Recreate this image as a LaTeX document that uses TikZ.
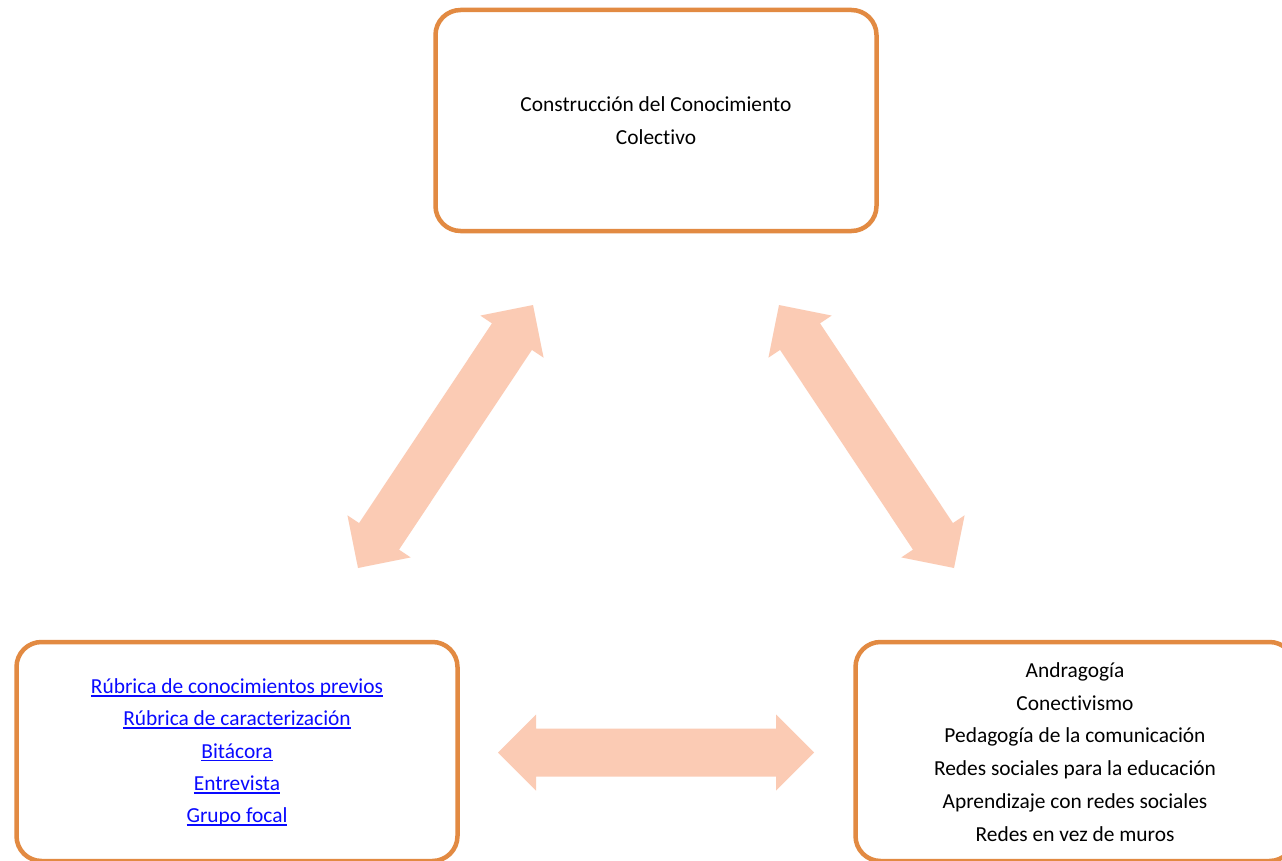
\documentclass[tikz,border=0pt]{standalone}
\usepackage{fontspec}
\setmainfont{Carlito}[Ligatures=NoCommon]
\usetikzlibrary{calc}
\definecolor{boxorange}{RGB}{226,138,66}
\definecolor{arrowpeach}{RGB}{251,203,180}
\definecolor{linkblue}{RGB}{10,10,255}
\newcommand\lnk[1]{\setbox0\hbox{#1}\rlap{\rule[-3pt]{\wd0}{1.5pt}}\box0}
\newcommand\dblarrow[2]{%
  \fill[arrowpeach]
    ($(#1)!38pt!(#2)$) coordinate (h1)
    ($(#2)!38pt!(#1)$) coordinate (h2)
    (#1) -- ($(h1)!38pt!90:(#2)$) -- ($(h1)!24pt!90:(#2)$)
    -- ($(h2)!24pt!-90:(#1)$) -- ($(h2)!38pt!-90:(#1)$) -- (#2)
    -- ($(h2)!38pt!90:(#1)$) -- ($(h2)!24pt!90:(#1)$)
    -- ($(h1)!24pt!-90:(#2)$) -- ($(h1)!38pt!-90:(#2)$) -- cycle;}
\tikzset{
  box/.style={draw=boxorange, line width=4.5pt, rounded corners=25pt, fill=white,
    align=center, font=\fontsize{21.4}{33.5}\selectfont, inner sep=0pt},
}
\begin{document}
\begin{tikzpicture}[x=1pt,y=-1pt]
\path[use as bounding box] (0,0) rectangle (1282,861);
\clip (0,0) rectangle (1282,861);
\fill[white] (0,0) rectangle (1282,861);
% boxes
\node[box, minimum width=441pt, minimum height=221pt] (top) at (656,120.5)
  {Construcción del Conocimiento\\Colectivo};
\node[box, minimum width=441pt, minimum height=219pt] (left) at (237,751.5)
  {};
\node[align=center, font=\fontsize{21.4}{32.3}\selectfont, text=linkblue, inner sep=0pt] (lefttext) at (237,752.5)
  {\lnk{Rúbrica de conocimientos previos}\\\lnk{Rúbrica de caracterización}\\\lnk{Bitácora}\\\lnk{Entrevista}\\\lnk{Grupo focal}};
\node[box, minimum width=439pt, minimum height=219pt] (right) at (1075,751.5)
  {};
\node[align=center, font=\fontsize{21.4}{32.8}\selectfont, inner sep=0pt] (righttext) at (1075,752)
  {Andragogía\\Conectivismo\\Pedagogía de la comunicación\\Redes sociales para la educación\\Aprendizaje con redes sociales\\Redes en vez de muros};
% arrows
\coordinate (a1) at (358,568);
\coordinate (a2) at (533,305);
\coordinate (b1) at (779,305);
\coordinate (b2) at (954,568);
\coordinate (c1) at (498,752.5);
\coordinate (c2) at (814,752.5);
\dblarrow{a1}{a2}
\dblarrow{b1}{b2}
\dblarrow{c1}{c2}
\end{tikzpicture}
\end{document}
